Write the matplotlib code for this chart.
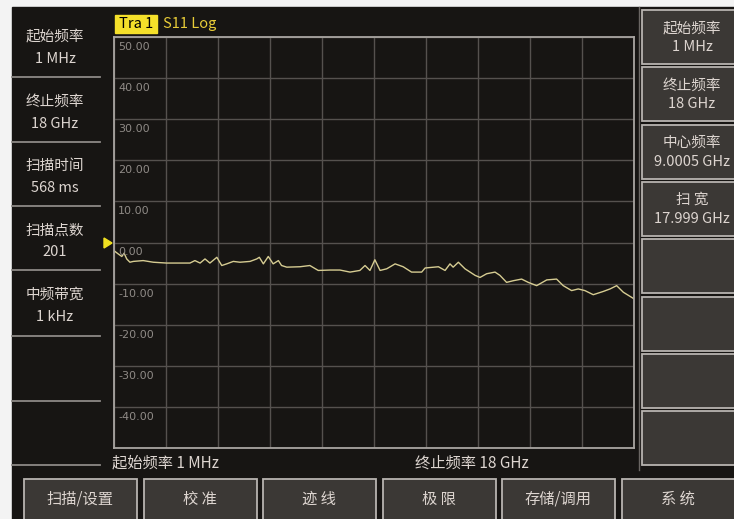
import matplotlib
matplotlib.use("Agg")
import matplotlib.pyplot as plt
from matplotlib.patches import Rectangle, Polygon

plt.rcParams['font.family'] = ['Noto Sans CJK SC', 'DejaVu Sans']

# trace data (frequency in GHz, S11 in dB)
freq_ghz = [0.001, 0.15, 0.27, 0.35, 0.44, 0.55, 0.67, 1.01, 1.36, 1.82,
            2.28, 2.63, 2.80, 2.98, 3.15, 3.32, 3.56, 3.73, 3.90, 4.13,
            4.36, 4.71, 4.94, 5.03, 5.17, 5.34, 5.51, 5.69, 5.80, 5.98,
            6.44, 6.78, 7.07, 7.48, 7.82, 8.17, 8.51, 8.69, 8.86, 9.03,
            9.21, 9.44, 9.73, 10.01, 10.30, 10.65, 10.77, 11.23, 11.46, 11.63,
            11.74, 11.92, 12.15, 12.50, 12.67, 12.90, 13.19, 13.36, 13.59, 13.82,
            14.11, 14.34, 14.63, 14.98, 15.32, 15.55, 15.84, 16.07, 16.30, 16.59,
            16.94, 17.17, 17.40, 17.63, 18.0]
s11_db = [-2.0, -2.8, -3.4, -2.6, -4.0, -4.8, -4.6, -4.4, -4.8, -5.0,
          -5.0, -5.0, -4.4, -5.0, -4.0, -5.0, -3.6, -5.6, -5.2, -4.6,
          -4.8, -4.6, -4.0, -3.6, -5.2, -3.4, -5.2, -4.4, -5.6, -6.0,
          -5.9, -5.6, -6.8, -6.7, -6.7, -7.2, -6.8, -5.6, -6.8, -4.2,
          -6.8, -6.4, -5.2, -5.9, -7.2, -7.2, -6.2, -5.9, -6.8, -5.2,
          -6.0, -4.8, -6.4, -8.0, -8.5, -7.6, -7.2, -8.0, -9.7, -9.3,
          -8.9, -9.7, -10.5, -9.1, -8.9, -10.5, -11.7, -11.3, -11.7, -12.7,
          -11.9, -11.3, -10.5, -12.1, -13.7]

y_ticks = [50, 40, 30, 20, 10, 0, -10, -20, -30, -40]

left_items = [("起始频率", "1 MHz"), ("终止频率", "18 GHz"), ("扫描时间", "568 ms"),
              ("扫描点数", "201"), ("中频带宽", "1 kHz")]
right_items = [("起始频率", "1 MHz"), ("终止频率", "18 GHz"), ("中心频率", "9.0005 GHz"),
               ("扫 宽", "17.999 GHz"), None, None, None, None]
bottom_items = ["扫描/设置", "校 准", "迹 线", "极 限", "存储/调用", "系 统"]

W, H = 734, 519
BG = '#171513'
TXT = '#ddd5d0'
fig = plt.figure(figsize=(W / 100, H / 100), dpi=100)

# screen frame in pixel coordinates
bg = fig.add_axes([0, 0, 1, 1])
bg.set_xlim(0, W)
bg.set_ylim(H, 0)
bg.axis('off')
bg.add_patch(Rectangle((0, 0), W, H, color='#f3f3f3'))
bg.add_patch(Rectangle((12, 7), W - 12, H - 7, color=BG))

# left info panel
for i, (name, val) in enumerate(left_items):
    yc = 10 + i * 64.5
    bg.text(55, yc + 27, name, color=TXT, fontsize=10.5, ha='center', va='center')
    bg.text(55, yc + 49, val, color=TXT, fontsize=10.5, ha='center', va='center')
for ys in [77, 142, 206, 270, 336, 401, 465]:
    bg.plot([12, 100], [ys, ys], color='#8d8986', lw=1.3)

# right soft-key panel
for i, item in enumerate(right_items):
    y0 = 10 + i * 57.3
    bg.add_patch(Rectangle((642, y0), 95, 54, facecolor='#3b3835',
                           edgecolor='#b8b4b0', lw=1.3))
    if item:
        bg.text(692, y0 + 18, item[0], color=TXT, fontsize=10.5, ha='center', va='center')
        bg.text(692, y0 + 37, item[1], color=TXT, fontsize=10.5, ha='center', va='center')
bg.plot([639, 639], [7, 470], color='#6a6663', lw=1)

# bottom buttons
for i, label in enumerate(bottom_items):
    x0 = 24 + i * 119.6
    bg.add_patch(Rectangle((x0, 479), 113, 45, facecolor='#3b3835',
                           edgecolor='#b8b4b0', lw=1.3))
    bg.text(x0 + 56, 499, label, color=TXT, fontsize=11, ha='center', va='center')

# trace header and frequency labels
bg.add_patch(Rectangle((115, 15), 42, 18, color='#f5e02a'))
bg.text(136, 24, "Tra 1", color='black', fontsize=10.5, ha='center', va='center')
bg.text(163, 24, "S11 Log", color='#e8cc38', fontsize=10.5, ha='left', va='center')
bg.text(112, 463, "起始频率 1 MHz", color=TXT, fontsize=11, ha='left', va='center')
bg.text(415, 463, "终止频率 18 GHz", color=TXT, fontsize=11, ha='left', va='center')
bg.add_patch(Polygon([[104, 238], [104, 248], [112, 243]], color='#f0e020'))

# measurement grid
ax = fig.add_axes([114 / W, (H - 448) / H, 520 / W, 411 / H])
ax.set_facecolor(BG)
ax.plot(freq_ghz, s11_db, color='#d6cc92', lw=1.0)
ax.set_xlim(0, 18)
ax.set_ylim(-50, 50)
ax.set_xticks([1.8 * k for k in range(11)])
ax.set_yticks(range(-50, 51, 10))
ax.grid(True, color='#55514e', lw=1.0)
ax.tick_params(length=0, labelbottom=False, labelleft=False)
for s in ax.spines.values():
    s.set_color('#a9a5a1')
    s.set_linewidth(1.3)
for v in y_ticks:
    ax.text(0.14, v - 1.2, f"{v:.2f}", color='#8f8a86', fontsize=8,
            ha='left', va='top', family='DejaVu Sans')

fig.savefig('out.png', dpi=100, facecolor='white')
